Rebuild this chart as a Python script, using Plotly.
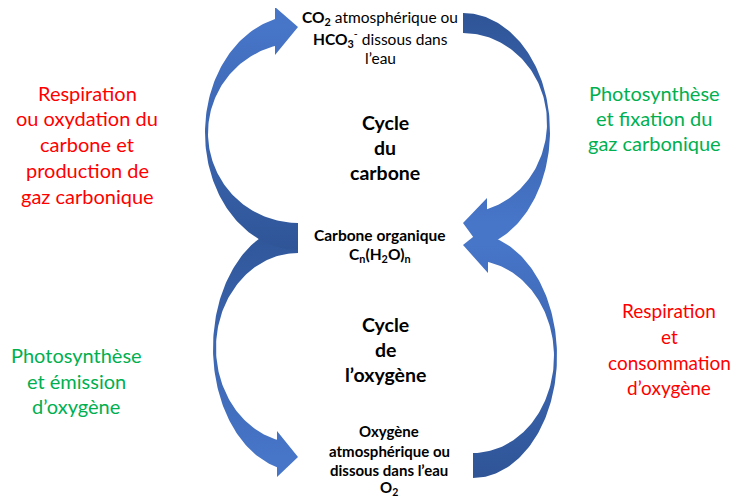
import numpy as np
import plotly.graph_objects as go

W, H = 739, 497
PAGE_MARGIN = 8          # default body margin of the html page
FONT = "Lato"

# ---------------- Arrow geometry (canvas pixel units) ----------------
# order = drawing order (later on top)
arrow_names   = ["oxygene_gauche", "carbone_gauche", "carbone_droite", "oxygene_droite"]
arrow_cx      = [298, 298, 463, 473]          # x of tail cut / ellipse centre
arrow_side    = [-1, -1, 1, 1]                # body left (-1) or right (+1)
arrow_tail    = [-1, 1, -1, 1]                # tail at top (-1) or bottom (+1)
outer_cy      = [348, 132.7, 131.3, 356]
outer_rx      = [85, 93, 87, 84]
outer_ry      = [123, 117.3, 118.3, 122]
inner_cy      = [348, 133, 123, 356.7]
inner_rx      = [82, 90, 84, 81]
inner_ry      = [95, 90, 90, 96.3]
head_x        = [277, 275, 487, 488]
barb_outer_y  = [477, 7, 256, 225]
barb_inner_y  = [431, 55, 198, 273]
tip_x         = [298, 298, 463, 463]
tip_y         = [457, 27, 223, 245]

DARK = "#2F5597"
LIGHT = "#4775C8"


def arc(cx, side, s, cy, rx, ry, hx, n=120):
    th_end = np.pi - np.arcsin(min(abs(hx - cx) / rx, 1.0))
    th = np.linspace(0, th_end, n)
    return cx + side * rx * np.sin(th), cy + s * ry * np.cos(th)


fig = go.Figure()

for k in range(len(arrow_names)):
    ox, oy = arc(arrow_cx[k], arrow_side[k], arrow_tail[k], outer_cy[k], outer_rx[k], outer_ry[k], head_x[k])
    ix, iy = arc(arrow_cx[k], arrow_side[k], arrow_tail[k], inner_cy[k], inner_rx[k], inner_ry[k], head_x[k])
    xs = list(ox) + [head_x[k], tip_x[k], head_x[k]] + list(ix[::-1]) + [ox[0]]
    ys = list(oy) + [barb_outer_y[k], tip_y[k], barb_inner_y[k]] + list(iy[::-1]) + [oy[0]]
    tail_y = oy[0]
    lo, hi = min(tail_y, tip_y[k]), max(tail_y, tip_y[k])
    if tail_y < tip_y[k]:
        cs = [[0, DARK], [1, LIGHT]]
    else:
        cs = [[0, LIGHT], [1, DARK]]
    fig.add_trace(go.Scatter(
        x=xs, y=ys, mode="lines", fill="toself",
        line=dict(width=0, color=DARK),
        fillgradient=dict(type="vertical", colorscale=cs, start=lo, stop=hi),
        hoverinfo="skip", showlegend=False, name=arrow_names[k]))

# ---------------- Text blocks ----------------
RED = "#FF0000"
GREEN = "#00B050"
BLACK = "#000000"

top_lines = ["<b>CO<sub>2</sub></b> atmosphérique ou",
             "<b>HCO<sub>3</sub></b><sup>-</sup> dissous dans",
             "l’eau"]
top_x, top_y = 380, [18, 38, 58]

carbon_cycle_lines = ["<b>Cycle</b>", "<b>du</b>", "<b>carbone</b>"]
carbon_cycle_x, carbon_cycle_y = 385, [122, 147, 172]

organic_lines = ["<b>Carbone organique</b>",
                 "<b>C<sub>n</sub>(H<sub>2</sub>O)<sub>n</sub></b>"]
organic_x, organic_y = 380, [235, 255]

oxygen_cycle_lines = ["<b>Cycle</b>", "<b>de</b>", "<b>l’oxygène</b>"]
oxygen_cycle_x, oxygen_cycle_y = 385, [324, 349, 374]

oxygen_lines = ["<b>Oxygène</b>", "<b>atmosphérique ou</b>",
                "<b>dissous dans l’eau</b>", "<b>O<sub>2</sub></b>"]
oxygen_x, oxygen_y = 389, [431, 451, 470, 488]

left_red_lines = ["Respiration", "ou oxydation du", "carbone et",
                  "production de", "gaz carbonique"]
left_red_x, left_red_y = 87, [93, 118, 144, 170, 196]

right_green_lines = ["Photosynthèse", "et fixation du", "gaz carbonique"]
right_green_x, right_green_y = 654, [93, 118, 143]

left_green_lines = ["Photosynthèse", "et émission", "d’oxygène"]
left_green_x, left_green_y = 76, [355, 381, 406]

right_red_lines = ["Respiration", "et", "consommation", "d’oxygène"]
right_red_x, right_red_y = 669, [310, 336, 362, 387]

blocks = [
    (top_lines, top_x, top_y, 15.5, BLACK),
    (carbon_cycle_lines, carbon_cycle_x, carbon_cycle_y, 19.5, BLACK),
    (organic_lines, organic_x, organic_y, 15.5, BLACK),
    (oxygen_cycle_lines, oxygen_cycle_x, oxygen_cycle_y, 19.5, BLACK),
    (oxygen_lines, oxygen_x, oxygen_y, 15, BLACK),
    (left_red_lines, left_red_x, left_red_y, 20, RED),
    (right_green_lines, right_green_x, right_green_y, 20, GREEN),
    (left_green_lines, left_green_x, left_green_y, 20, GREEN),
    (right_red_lines, right_red_x, right_red_y, 19, RED),
]

annotations = []
for lines, x, ys, size, color in blocks:
    for line, y in zip(lines, ys):
        annotations.append(dict(
            x=x, y=y, xref="x", yref="y", text=line, showarrow=False,
            xanchor="center", yanchor="middle",
            font=dict(family=FONT, size=size, color=color)))

# the figure sits inside the page's default body margin, so the axes start at
# that offset and data units equal screen pixels
fig.update_layout(
    width=W - PAGE_MARGIN, height=H - PAGE_MARGIN,
    margin=dict(l=0, r=0, t=0, b=0),
    paper_bgcolor="white", plot_bgcolor="white",
    xaxis=dict(range=[PAGE_MARGIN, W], visible=False, fixedrange=True),
    yaxis=dict(range=[H, PAGE_MARGIN], visible=False, fixedrange=True),
    annotations=annotations,
    showlegend=False,
)

fig.write_html("out.html")
